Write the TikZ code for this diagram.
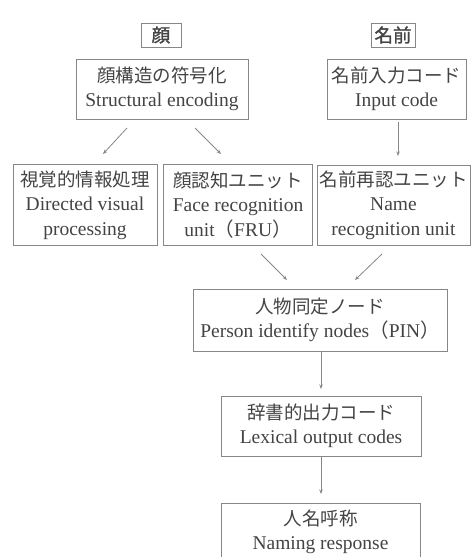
\documentclass[tikz,border=0pt]{standalone}
\usepackage{fontspec}
\setmainfont{Liberation Serif}
\newfontfamily\jp{Noto Sans CJK JP}
\newfontfamily\jpb[FakeBold=1.5]{Noto Sans CJK JP}
\usetikzlibrary{arrows.meta}
\definecolor{txt}{RGB}{68,68,68}
\definecolor{ln}{RGB}{135,135,135}
\newcommand{\jl}[1]{{\fontsize{18.5}{24.5}\selectfont\jp #1}}
\newcommand{\jlb}[1]{{\fontsize{18.5}{24.5}\selectfont\jpb #1}}
\begin{document}
\begin{tikzpicture}[x=1pt,y=-1pt,
  box/.style={draw=ln,line width=0.9pt,text=txt,align=center,inner sep=0pt,
    font=\fontsize{19.5}{24.5}\selectfont},
  arr/.style={draw=ln,line width=0.8pt,-{Stealth[length=4.5pt,width=3.5pt]}}]
\useasboundingbox[fill=white] (0,0) rectangle (473,557);
\node[box,minimum width=40pt,minimum height=24pt] (face) at (161,35) {\jlb{顔}};
\node[box,minimum width=44pt,minimum height=24pt] (name) at (393,35) {\jlb{名前}};
\node[box,minimum width=172pt,minimum height=60pt] (se) at (162,89)
  {\jl{顔構造の符号化}\\Structural encoding};
\node[box,minimum width=139pt,minimum height=60pt] (ic) at (396.5,89)
  {\jl{名前入力コード}\\Input code};
\node[box,minimum width=144pt,minimum height=81pt] (dvp) at (85,205)
  {\jl{視覚的情報処理}\\Directed visual\\processing};
\node[box,minimum width=149pt,minimum height=81pt] (fru) at (238,205)
  {\jl{顔認知ユニット}\\Face recognition\\unit{\jp （}FRU{\jp ）}};
\node[box,minimum width=153pt,minimum height=80pt] (nru) at (393.5,205)
  {\jl{名前再認ユニット}\\Name\\recognition unit};
\node[box,minimum width=254pt,minimum height=62pt] (pin) at (320,320)
  {\jl{人物同定ノード}\\Person identify nodes{\jp （}PIN{\jp ）}};
\node[box,minimum width=200pt,minimum height=60pt] (loc) at (321,426)
  {\jl{辞書的出力コード}\\Lexical output codes};
\node[box,minimum width=199pt,minimum height=58pt] (nr) at (320.5,532)
  {\jl{人名呼称}\\Naming response};
\coordinate (a1s) at (127,128); \coordinate (a1e) at (103,154);
\coordinate (a2s) at (195,128); \coordinate (a2e) at (221,154);
\coordinate (a3s) at (398,122); \coordinate (a3e) at (398,156);
\coordinate (a4s) at (261,254); \coordinate (a4e) at (287,280);
\coordinate (a5s) at (382,254); \coordinate (a5e) at (355,280);
\coordinate (a6s) at (321,352); \coordinate (a6e) at (321,389);
\coordinate (a7s) at (321,457); \coordinate (a7e) at (321,494);
\draw[arr] (a1s) -- (a1e);
\draw[arr] (a2s) -- (a2e);
\draw[arr] (a3s) -- (a3e);
\draw[arr] (a4s) -- (a4e);
\draw[arr] (a5s) -- (a5e);
\draw[arr] (a6s) -- (a6e);
\draw[arr] (a7s) -- (a7e);
\end{tikzpicture}
\end{document}
